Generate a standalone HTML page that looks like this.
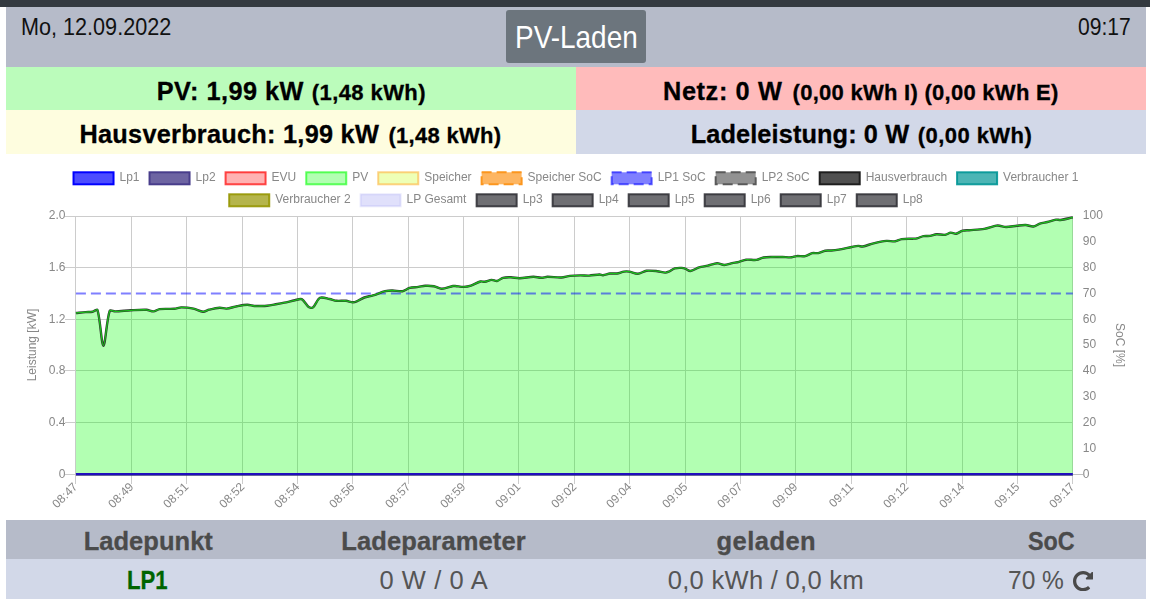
<!DOCTYPE html>
<html><head><meta charset="utf-8">
<style>
*{box-sizing:border-box;margin:0;padding:0}
html,body{width:1150px;height:604px;overflow:hidden;background:#fff;font-family:"Liberation Sans",sans-serif}
.a{position:absolute}
.tx{position:absolute;white-space:nowrap;line-height:1;transform-origin:0 0}
.b{font-weight:bold;-webkit-text-stroke:0.3px #000}
#topbar{left:0;top:0;width:1150px;height:7px;background:#343a40}
#hdr{left:6px;top:7px;width:1140px;height:60px;background:#b6bbc9}
#btn{left:506px;top:10px;width:140px;height:53px;background:#6c757d;border-radius:3px}
#r1l{left:6px;top:67px;width:570px;height:43px;background:#bbfcbb}
#r1r{left:576px;top:67px;width:570px;height:43px;background:#ffbbbb}
#r2l{left:6px;top:110px;width:570px;height:44px;background:#fefddf}
#r2r{left:576px;top:110px;width:570px;height:44px;background:#d2d8e8}
#th{left:6px;top:520px;width:1140px;height:39px;background:#b6bbc9}
#tb{left:6px;top:559px;width:1140px;height:40px;background:#d2d8e8}
#date{left:21.1px;top:16px;letter-spacing:0.00px;transform:scaleX(0.9198);font-size:23.5px;color:#111}
#time{left:1077.9px;top:16px;letter-spacing:0.00px;transform:scaleX(0.8966);font-size:23.5px;color:#111}
#title{left:514.7px;top:22px;letter-spacing:0.00px;transform:scaleX(0.9160);font-size:30.5px;color:#fff}
.big{font-size:25.3px;color:#000}
.sm{font-size:22px;color:#000}
#pvm{left:156.8px;top:79px;letter-spacing:0.45px}
#pvs{left:311.8px;top:82px;letter-spacing:0.41px}
#nm{left:663.0px;top:79px;letter-spacing:0.62px}
#ns{left:792.6px;top:82px;letter-spacing:0.27px}
#hm{left:79.5px;top:122px;letter-spacing:0.26px}
#hs{left:388.5px;top:125px;letter-spacing:0.28px}
#lm{left:690.7px;top:122px;letter-spacing:0.12px}
#ls{left:917.7px;top:125px;letter-spacing:0.45px}
.th{font-size:25.5px;font-weight:bold;color:#4b4b4b;-webkit-text-stroke:0.3px currentColor}
.tv{font-size:25.5px;color:#555}
#h1{left:83.7px;top:529px;letter-spacing:0.03px}
#h2{left:341.3px;top:529px;letter-spacing:0.13px}
#h3{left:716.6px;top:529px;letter-spacing:0.44px}
#h4{left:1028.2px;top:529px;letter-spacing:0.00px;transform:scaleX(0.9162)}
#v1{left:126.5px;top:568px;letter-spacing:0.00px;transform:scaleX(0.8672);color:#006400}
#v2{left:379.4px;top:568px;letter-spacing:0.60px}
#v3{left:667.7px;top:568px;letter-spacing:0.31px}
#v4{left:1007.9px;top:568px;letter-spacing:0.00px;transform:scaleX(0.9616)}
</style></head><body>
<div class="a" id="topbar"></div>
<div class="a" id="hdr"></div>
<div class="a" id="btn"></div>
<div class="a" id="r1l"></div>
<div class="a" id="r1r"></div>
<div class="a" id="r2l"></div>
<div class="a" id="r2r"></div>
<div class="a" id="th"></div>
<div class="a" id="tb"></div>
<div class="tx" id="date">Mo, 12.09.2022</div>
<div class="tx" id="time">09:17</div>
<div class="tx" id="title">PV-Laden</div>
<div class="tx b big" id="pvm">PV: 1,99 kW</div>
<div class="tx b sm" id="pvs">(1,48 kWh)</div>
<div class="tx b big" id="nm">Netz: 0 W</div>
<div class="tx b sm" id="ns">(0,00 kWh I) (0,00 kWh E)</div>
<div class="tx b big" id="hm">Hausverbrauch: 1,99 kW</div>
<div class="tx b sm" id="hs">(1,48 kWh)</div>
<div class="tx b big" id="lm">Ladeleistung: 0 W</div>
<div class="tx b sm" id="ls">(0,00 kWh)</div>
<div class="tx th" id="h1">Ladepunkt</div>
<div class="tx th" id="h2">Ladeparameter</div>
<div class="tx th" id="h3">geladen</div>
<div class="tx th" id="h4">SoC</div>
<div class="tx th" id="v1">LP1</div>
<div class="tx tv" id="v2">0 W / 0 A</div>
<div class="tx tv" id="v3">0,0 kWh / 0,0 km</div>
<div class="tx tv" id="v4">70 %</div>
<svg class="a" style="left:1072.8px;top:570.8px" width="20.3" height="20.3" viewBox="8 8 496 496"><path fill="#4a4a4a" d="M256.455 8c66.269.119 126.437 26.233 170.859 68.685l35.715-35.715C478.149 25.851 504 36.559 504 57.941V192c0 13.255-10.745 24-24 24H345.941c-21.382 0-32.09-25.851-16.971-40.971l41.75-41.75c-30.864-28.899-70.801-44.907-113.23-45.273-92.398-.798-170.283 73.977-169.484 169.442C88.764 348.009 162.184 424 256 424c41.127 0 79.997-14.678 110.629-41.556 4.743-4.161 11.906-3.908 16.368.553l39.662 39.662c4.872 4.872 4.631 12.815-.482 17.433C378.202 479.813 319.926 504 256 504 119.034 504 8.001 392.967 8 256.002 7.999 119.193 119.646 7.755 256.455 8z"/></svg>
<svg class="a" style="left:0;top:0;will-change:transform" width="1150" height="604">
<line x1="65" y1="216.5" x2="1073" y2="216.5" stroke="#cccccc" stroke-width="1"/>
<line x1="65" y1="267.5" x2="1073" y2="267.5" stroke="#cccccc" stroke-width="1"/>
<line x1="65" y1="319.5" x2="1073" y2="319.5" stroke="#cccccc" stroke-width="1"/>
<line x1="65" y1="370.5" x2="1073" y2="370.5" stroke="#cccccc" stroke-width="1"/>
<line x1="65" y1="422.5" x2="1073" y2="422.5" stroke="#cccccc" stroke-width="1"/>
<line x1="65" y1="474.5" x2="1073" y2="474.5" stroke="#cccccc" stroke-width="1"/>
<line x1="75.5" y1="216" x2="75.5" y2="484" stroke="#cccccc" stroke-width="1"/>
<line x1="131.5" y1="216" x2="131.5" y2="484" stroke="#cccccc" stroke-width="1"/>
<line x1="186.5" y1="216" x2="186.5" y2="484" stroke="#cccccc" stroke-width="1"/>
<line x1="242.5" y1="216" x2="242.5" y2="484" stroke="#cccccc" stroke-width="1"/>
<line x1="297.5" y1="216" x2="297.5" y2="484" stroke="#cccccc" stroke-width="1"/>
<line x1="352.5" y1="216" x2="352.5" y2="484" stroke="#cccccc" stroke-width="1"/>
<line x1="408.5" y1="216" x2="408.5" y2="484" stroke="#cccccc" stroke-width="1"/>
<line x1="463.5" y1="216" x2="463.5" y2="484" stroke="#cccccc" stroke-width="1"/>
<line x1="518.5" y1="216" x2="518.5" y2="484" stroke="#cccccc" stroke-width="1"/>
<line x1="574.5" y1="216" x2="574.5" y2="484" stroke="#cccccc" stroke-width="1"/>
<line x1="629.5" y1="216" x2="629.5" y2="484" stroke="#cccccc" stroke-width="1"/>
<line x1="685.5" y1="216" x2="685.5" y2="484" stroke="#cccccc" stroke-width="1"/>
<line x1="740.5" y1="216" x2="740.5" y2="484" stroke="#cccccc" stroke-width="1"/>
<line x1="795.5" y1="216" x2="795.5" y2="484" stroke="#cccccc" stroke-width="1"/>
<line x1="851.5" y1="216" x2="851.5" y2="484" stroke="#cccccc" stroke-width="1"/>
<line x1="906.5" y1="216" x2="906.5" y2="484" stroke="#cccccc" stroke-width="1"/>
<line x1="962.5" y1="216" x2="962.5" y2="484" stroke="#cccccc" stroke-width="1"/>
<line x1="1017.5" y1="216" x2="1017.5" y2="484" stroke="#cccccc" stroke-width="1"/>
<line x1="1072.5" y1="216" x2="1072.5" y2="484" stroke="#cccccc" stroke-width="1"/>
<line x1="1073" y1="474.5" x2="1083" y2="474.5" stroke="#bfbfbf" stroke-width="1"/>
<path d="M75.9,313 C78.84,312.73 82.76,312.33 85.7,312.1 C87.77,311.94 90.58,312.06 92.6,311.7 C94.12,311.43 97.09,308.72 97.5,310 C100.33,318.92 101.55,345.56 103.4,345.7 C105.21,345.83 106.64,319.8 109.7,310.9 C110.18,309.51 113.55,311.45 115.2,311.4 C119.91,311.27 126.19,310.54 130.9,310.3 C135.58,310.06 141.86,309.57 146.5,309.8 C148.64,309.9 151.44,311.51 153.5,311.4 C155.37,311.3 157.68,309.34 159.6,309.1 C163.92,308.56 169.92,309.14 174.3,308.8 C176.43,308.63 179.18,307.42 181.3,307.4 C184.94,307.36 189.91,307.89 193.5,308.6 C196.42,309.18 200.15,311.5 203,311.7 C204.83,311.83 207.23,310.15 209.1,309.7 C212.21,308.95 216.44,307.9 219.6,307.7 C221.66,307.57 224.45,308.78 226.5,308.6 C229.67,308.33 233.82,306.78 237,306.2 C240.09,305.64 244.29,304.84 247.4,304.8 C249.48,304.78 252.22,305.8 254.3,306 C256,306.16 258.29,306.04 260,306 C262.1,305.95 264.91,305.93 267,305.7 C269.62,305.42 273.1,304.75 275.7,304.3 C278.29,303.85 281.73,303.24 284.3,302.7 C287.46,302.04 291.63,300.94 294.8,300.3 C296.85,299.89 300.03,298.4 301.7,299.2 C304.2,300.41 306.3,305.26 308.7,307 C309.69,307.72 312.1,308.14 313,307.4 C315.49,305.38 317.26,299.19 320,297.8 C322.24,296.67 326.75,298.48 329.6,299 C331.7,299.38 334.39,300.57 336.5,300.8 C339.34,301.11 343.25,300.54 346.1,300.8 C348.2,300.99 350.95,302.26 353,302.3 C354.34,302.32 356.14,301.54 357.4,301 C359.53,300.1 362.13,298.28 364.3,297.5 C366.81,296.6 370.43,296.17 373,295.4 C376.7,294.28 381.47,292.15 385.2,291.2 C387.23,290.68 390.1,290.5 392.2,290.5 C395.32,290.5 399.6,291.65 402.6,291.2 C404.82,290.87 407.39,288.51 409.6,287.9 C412.1,287.22 415.7,287.25 418.3,286.9 C420.38,286.62 423.12,285.89 425.2,285.8 C427.8,285.68 431.35,285.74 433.9,286.2 C436.3,286.64 439.33,288.82 441.7,288.8 C445.06,288.76 449.59,286.71 453,286 C453.64,285.87 454.54,285.95 455.2,286 C457.81,286.22 461.3,286.95 463.9,286.9 C466.01,286.86 468.89,286.36 470.9,285.7 C473.84,284.74 477.47,282.32 480.4,281.5 C481.64,281.15 483.51,281.98 484.8,281.8 C486.9,281.5 489.62,280.04 491.7,279.9 C493.28,279.8 495.5,281.28 497,281 C498.89,280.65 501.07,278.31 503,277.8 C505.24,277.2 508.53,277.24 510.9,277.3 C513.51,277.36 516.99,278.26 519.6,278.2 C523.77,278.11 529.33,276.88 533.5,276.8 C535.84,276.76 538.97,277.8 541.3,277.8 C543.14,277.8 545.55,276.83 547.4,276.8 C551.55,276.74 557.15,277.67 561.3,277.5 C563.93,277.4 567.37,276.19 570,275.9 C573.1,275.56 577.28,275.45 580.4,275.4 C583.01,275.36 586.5,275.72 589.1,275.6 C592.26,275.45 596.46,274.59 599.6,274.5 C600.63,274.47 601.99,275.3 603,275.2 C605.11,275 607.87,273.76 610,273.5 C612.07,273.25 614.94,273.78 617,273.5 C619.11,273.21 621.8,271.93 623.9,271.6 C625.43,271.36 627.57,271.36 629.1,271.6 C631.74,272.02 635.23,273.93 637.8,273.8 C640.45,273.66 643.8,271.06 646.5,270.7 C649.68,270.28 654.15,270.87 657.4,271.2 C659.76,271.44 662.87,272.5 665.2,272.6 C666.26,272.65 667.72,272.14 668.7,271.7 C670.6,270.85 672.84,268.87 674.8,268.3 C676.74,267.73 679.64,267.84 681.7,267.9 C682.76,267.93 684.2,268.24 685.2,268.6 C686.81,269.17 688.82,271.14 690.4,271 C692.99,270.78 696.41,268.22 699.1,267.4 C701.63,266.63 705.22,266.32 707.8,265.7 C709.93,265.18 712.67,264.07 714.8,263.6 C715.82,263.38 717.27,263.25 718.3,263.4 C720.12,263.67 722.49,265.03 724.3,265 C726.66,264.97 729.82,263.71 732.2,263.2 C734.26,262.75 737.05,262.32 739.1,261.8 C741.22,261.27 743.95,259.94 746.1,259.7 C749.17,259.37 753.45,260.29 756.5,259.9 C758.67,259.63 761.34,257.9 763.5,257.5 C766.05,257.03 769.59,257.07 772.2,257 C775.32,256.92 779.48,256.95 782.6,257 C785.21,257.04 788.71,257.47 791.3,257.3 C792.88,257.2 794.91,256.24 796.5,256.1 C799.08,255.88 802.69,256.58 805.2,256.1 C807.4,255.68 810.02,253.6 812.2,253.1 C813.95,252.7 816.53,253.43 818.3,253.1 C820.43,252.71 823.08,251.12 825.2,250.7 C826.98,250.34 829.48,250.65 831.3,250.5 C833.53,250.32 836.5,249.98 838.7,249.6 C842.62,248.93 847.79,247.74 851.7,247 C853.67,246.63 856.32,245.99 858.3,245.9 C859.59,245.84 861.34,246.72 862.6,246.5 C865.9,245.94 870.19,244.08 873.5,243.3 C877.36,242.4 882.58,241.26 886.5,240.9 C889.09,240.66 892.65,241.6 895.2,241.3 C897.21,241.06 899.68,239.4 901.7,239.1 C904.9,238.62 909.33,238.87 912.6,238.7 C913.92,238.63 915.72,238.61 917,238.3 C918.99,237.83 921.5,236.47 923.5,236.1 C925.4,235.75 928.08,236.17 930,235.9 C931.98,235.63 934.52,234.44 936.5,234.3 C939.08,234.11 942.66,235.1 945.2,234.8 C946.92,234.59 949.01,232.77 950.7,232.6 C952.28,232.44 954.55,233.95 956.1,233.7 C958.12,233.38 960.56,231.25 962.6,230.7 C964.46,230.2 967.15,230.36 969.1,230.2 C973.66,229.82 979.8,229.64 984.3,228.9 C987.96,228.29 992.67,226.46 996.3,225.7 C997.26,225.5 998.62,225.57 999.6,225.7 C1001.56,225.96 1004.13,227 1006.1,227 C1009.35,227 1013.72,226.03 1017,225.7 C1019.6,225.43 1023.11,224.87 1025.7,225 C1028,225.11 1031.09,226.7 1033.3,226.5 C1035.32,226.31 1037.79,224.34 1039.8,223.7 C1042.02,222.99 1045.13,222.57 1047.4,222 C1050.02,221.34 1053.46,220.01 1056.1,219.6 C1057.36,219.41 1059.13,220.17 1060.4,220 C1064.15,219.51 1069.1,218.18 1072.83,217.4 L1072.83,474 L75.9,474 Z" fill="rgba(0,255,0,0.3)" stroke="none"/>
<line x1="75.9" y1="293.4" x2="1072.83" y2="293.4" stroke="rgba(0,0,255,0.5)" stroke-width="2" stroke-dasharray="10 5"/>
<path d="M75.9,313 C78.84,312.73 82.76,312.33 85.7,312.1 C87.77,311.94 90.58,312.06 92.6,311.7 C94.12,311.43 97.09,308.72 97.5,310 C100.33,318.92 101.55,345.56 103.4,345.7 C105.21,345.83 106.64,319.8 109.7,310.9 C110.18,309.51 113.55,311.45 115.2,311.4 C119.91,311.27 126.19,310.54 130.9,310.3 C135.58,310.06 141.86,309.57 146.5,309.8 C148.64,309.9 151.44,311.51 153.5,311.4 C155.37,311.3 157.68,309.34 159.6,309.1 C163.92,308.56 169.92,309.14 174.3,308.8 C176.43,308.63 179.18,307.42 181.3,307.4 C184.94,307.36 189.91,307.89 193.5,308.6 C196.42,309.18 200.15,311.5 203,311.7 C204.83,311.83 207.23,310.15 209.1,309.7 C212.21,308.95 216.44,307.9 219.6,307.7 C221.66,307.57 224.45,308.78 226.5,308.6 C229.67,308.33 233.82,306.78 237,306.2 C240.09,305.64 244.29,304.84 247.4,304.8 C249.48,304.78 252.22,305.8 254.3,306 C256,306.16 258.29,306.04 260,306 C262.1,305.95 264.91,305.93 267,305.7 C269.62,305.42 273.1,304.75 275.7,304.3 C278.29,303.85 281.73,303.24 284.3,302.7 C287.46,302.04 291.63,300.94 294.8,300.3 C296.85,299.89 300.03,298.4 301.7,299.2 C304.2,300.41 306.3,305.26 308.7,307 C309.69,307.72 312.1,308.14 313,307.4 C315.49,305.38 317.26,299.19 320,297.8 C322.24,296.67 326.75,298.48 329.6,299 C331.7,299.38 334.39,300.57 336.5,300.8 C339.34,301.11 343.25,300.54 346.1,300.8 C348.2,300.99 350.95,302.26 353,302.3 C354.34,302.32 356.14,301.54 357.4,301 C359.53,300.1 362.13,298.28 364.3,297.5 C366.81,296.6 370.43,296.17 373,295.4 C376.7,294.28 381.47,292.15 385.2,291.2 C387.23,290.68 390.1,290.5 392.2,290.5 C395.32,290.5 399.6,291.65 402.6,291.2 C404.82,290.87 407.39,288.51 409.6,287.9 C412.1,287.22 415.7,287.25 418.3,286.9 C420.38,286.62 423.12,285.89 425.2,285.8 C427.8,285.68 431.35,285.74 433.9,286.2 C436.3,286.64 439.33,288.82 441.7,288.8 C445.06,288.76 449.59,286.71 453,286 C453.64,285.87 454.54,285.95 455.2,286 C457.81,286.22 461.3,286.95 463.9,286.9 C466.01,286.86 468.89,286.36 470.9,285.7 C473.84,284.74 477.47,282.32 480.4,281.5 C481.64,281.15 483.51,281.98 484.8,281.8 C486.9,281.5 489.62,280.04 491.7,279.9 C493.28,279.8 495.5,281.28 497,281 C498.89,280.65 501.07,278.31 503,277.8 C505.24,277.2 508.53,277.24 510.9,277.3 C513.51,277.36 516.99,278.26 519.6,278.2 C523.77,278.11 529.33,276.88 533.5,276.8 C535.84,276.76 538.97,277.8 541.3,277.8 C543.14,277.8 545.55,276.83 547.4,276.8 C551.55,276.74 557.15,277.67 561.3,277.5 C563.93,277.4 567.37,276.19 570,275.9 C573.1,275.56 577.28,275.45 580.4,275.4 C583.01,275.36 586.5,275.72 589.1,275.6 C592.26,275.45 596.46,274.59 599.6,274.5 C600.63,274.47 601.99,275.3 603,275.2 C605.11,275 607.87,273.76 610,273.5 C612.07,273.25 614.94,273.78 617,273.5 C619.11,273.21 621.8,271.93 623.9,271.6 C625.43,271.36 627.57,271.36 629.1,271.6 C631.74,272.02 635.23,273.93 637.8,273.8 C640.45,273.66 643.8,271.06 646.5,270.7 C649.68,270.28 654.15,270.87 657.4,271.2 C659.76,271.44 662.87,272.5 665.2,272.6 C666.26,272.65 667.72,272.14 668.7,271.7 C670.6,270.85 672.84,268.87 674.8,268.3 C676.74,267.73 679.64,267.84 681.7,267.9 C682.76,267.93 684.2,268.24 685.2,268.6 C686.81,269.17 688.82,271.14 690.4,271 C692.99,270.78 696.41,268.22 699.1,267.4 C701.63,266.63 705.22,266.32 707.8,265.7 C709.93,265.18 712.67,264.07 714.8,263.6 C715.82,263.38 717.27,263.25 718.3,263.4 C720.12,263.67 722.49,265.03 724.3,265 C726.66,264.97 729.82,263.71 732.2,263.2 C734.26,262.75 737.05,262.32 739.1,261.8 C741.22,261.27 743.95,259.94 746.1,259.7 C749.17,259.37 753.45,260.29 756.5,259.9 C758.67,259.63 761.34,257.9 763.5,257.5 C766.05,257.03 769.59,257.07 772.2,257 C775.32,256.92 779.48,256.95 782.6,257 C785.21,257.04 788.71,257.47 791.3,257.3 C792.88,257.2 794.91,256.24 796.5,256.1 C799.08,255.88 802.69,256.58 805.2,256.1 C807.4,255.68 810.02,253.6 812.2,253.1 C813.95,252.7 816.53,253.43 818.3,253.1 C820.43,252.71 823.08,251.12 825.2,250.7 C826.98,250.34 829.48,250.65 831.3,250.5 C833.53,250.32 836.5,249.98 838.7,249.6 C842.62,248.93 847.79,247.74 851.7,247 C853.67,246.63 856.32,245.99 858.3,245.9 C859.59,245.84 861.34,246.72 862.6,246.5 C865.9,245.94 870.19,244.08 873.5,243.3 C877.36,242.4 882.58,241.26 886.5,240.9 C889.09,240.66 892.65,241.6 895.2,241.3 C897.21,241.06 899.68,239.4 901.7,239.1 C904.9,238.62 909.33,238.87 912.6,238.7 C913.92,238.63 915.72,238.61 917,238.3 C918.99,237.83 921.5,236.47 923.5,236.1 C925.4,235.75 928.08,236.17 930,235.9 C931.98,235.63 934.52,234.44 936.5,234.3 C939.08,234.11 942.66,235.1 945.2,234.8 C946.92,234.59 949.01,232.77 950.7,232.6 C952.28,232.44 954.55,233.95 956.1,233.7 C958.12,233.38 960.56,231.25 962.6,230.7 C964.46,230.2 967.15,230.36 969.1,230.2 C973.66,229.82 979.8,229.64 984.3,228.9 C987.96,228.29 992.67,226.46 996.3,225.7 C997.26,225.5 998.62,225.57 999.6,225.7 C1001.56,225.96 1004.13,227 1006.1,227 C1009.35,227 1013.72,226.03 1017,225.7 C1019.6,225.43 1023.11,224.87 1025.7,225 C1028,225.11 1031.09,226.7 1033.3,226.5 C1035.32,226.31 1037.79,224.34 1039.8,223.7 C1042.02,222.99 1045.13,222.57 1047.4,222 C1050.02,221.34 1053.46,220.01 1056.1,219.6 C1057.36,219.41 1059.13,220.17 1060.4,220 C1064.15,219.51 1069.1,218.18 1072.83,217.4" fill="none" stroke="#333" stroke-width="2.4" stroke-linejoin="round"/>
<path d="M75.9,313 C78.84,312.73 82.76,312.33 85.7,312.1 C87.77,311.94 90.58,312.06 92.6,311.7 C94.12,311.43 97.09,308.72 97.5,310 C100.33,318.92 101.55,345.56 103.4,345.7 C105.21,345.83 106.64,319.8 109.7,310.9 C110.18,309.51 113.55,311.45 115.2,311.4 C119.91,311.27 126.19,310.54 130.9,310.3 C135.58,310.06 141.86,309.57 146.5,309.8 C148.64,309.9 151.44,311.51 153.5,311.4 C155.37,311.3 157.68,309.34 159.6,309.1 C163.92,308.56 169.92,309.14 174.3,308.8 C176.43,308.63 179.18,307.42 181.3,307.4 C184.94,307.36 189.91,307.89 193.5,308.6 C196.42,309.18 200.15,311.5 203,311.7 C204.83,311.83 207.23,310.15 209.1,309.7 C212.21,308.95 216.44,307.9 219.6,307.7 C221.66,307.57 224.45,308.78 226.5,308.6 C229.67,308.33 233.82,306.78 237,306.2 C240.09,305.64 244.29,304.84 247.4,304.8 C249.48,304.78 252.22,305.8 254.3,306 C256,306.16 258.29,306.04 260,306 C262.1,305.95 264.91,305.93 267,305.7 C269.62,305.42 273.1,304.75 275.7,304.3 C278.29,303.85 281.73,303.24 284.3,302.7 C287.46,302.04 291.63,300.94 294.8,300.3 C296.85,299.89 300.03,298.4 301.7,299.2 C304.2,300.41 306.3,305.26 308.7,307 C309.69,307.72 312.1,308.14 313,307.4 C315.49,305.38 317.26,299.19 320,297.8 C322.24,296.67 326.75,298.48 329.6,299 C331.7,299.38 334.39,300.57 336.5,300.8 C339.34,301.11 343.25,300.54 346.1,300.8 C348.2,300.99 350.95,302.26 353,302.3 C354.34,302.32 356.14,301.54 357.4,301 C359.53,300.1 362.13,298.28 364.3,297.5 C366.81,296.6 370.43,296.17 373,295.4 C376.7,294.28 381.47,292.15 385.2,291.2 C387.23,290.68 390.1,290.5 392.2,290.5 C395.32,290.5 399.6,291.65 402.6,291.2 C404.82,290.87 407.39,288.51 409.6,287.9 C412.1,287.22 415.7,287.25 418.3,286.9 C420.38,286.62 423.12,285.89 425.2,285.8 C427.8,285.68 431.35,285.74 433.9,286.2 C436.3,286.64 439.33,288.82 441.7,288.8 C445.06,288.76 449.59,286.71 453,286 C453.64,285.87 454.54,285.95 455.2,286 C457.81,286.22 461.3,286.95 463.9,286.9 C466.01,286.86 468.89,286.36 470.9,285.7 C473.84,284.74 477.47,282.32 480.4,281.5 C481.64,281.15 483.51,281.98 484.8,281.8 C486.9,281.5 489.62,280.04 491.7,279.9 C493.28,279.8 495.5,281.28 497,281 C498.89,280.65 501.07,278.31 503,277.8 C505.24,277.2 508.53,277.24 510.9,277.3 C513.51,277.36 516.99,278.26 519.6,278.2 C523.77,278.11 529.33,276.88 533.5,276.8 C535.84,276.76 538.97,277.8 541.3,277.8 C543.14,277.8 545.55,276.83 547.4,276.8 C551.55,276.74 557.15,277.67 561.3,277.5 C563.93,277.4 567.37,276.19 570,275.9 C573.1,275.56 577.28,275.45 580.4,275.4 C583.01,275.36 586.5,275.72 589.1,275.6 C592.26,275.45 596.46,274.59 599.6,274.5 C600.63,274.47 601.99,275.3 603,275.2 C605.11,275 607.87,273.76 610,273.5 C612.07,273.25 614.94,273.78 617,273.5 C619.11,273.21 621.8,271.93 623.9,271.6 C625.43,271.36 627.57,271.36 629.1,271.6 C631.74,272.02 635.23,273.93 637.8,273.8 C640.45,273.66 643.8,271.06 646.5,270.7 C649.68,270.28 654.15,270.87 657.4,271.2 C659.76,271.44 662.87,272.5 665.2,272.6 C666.26,272.65 667.72,272.14 668.7,271.7 C670.6,270.85 672.84,268.87 674.8,268.3 C676.74,267.73 679.64,267.84 681.7,267.9 C682.76,267.93 684.2,268.24 685.2,268.6 C686.81,269.17 688.82,271.14 690.4,271 C692.99,270.78 696.41,268.22 699.1,267.4 C701.63,266.63 705.22,266.32 707.8,265.7 C709.93,265.18 712.67,264.07 714.8,263.6 C715.82,263.38 717.27,263.25 718.3,263.4 C720.12,263.67 722.49,265.03 724.3,265 C726.66,264.97 729.82,263.71 732.2,263.2 C734.26,262.75 737.05,262.32 739.1,261.8 C741.22,261.27 743.95,259.94 746.1,259.7 C749.17,259.37 753.45,260.29 756.5,259.9 C758.67,259.63 761.34,257.9 763.5,257.5 C766.05,257.03 769.59,257.07 772.2,257 C775.32,256.92 779.48,256.95 782.6,257 C785.21,257.04 788.71,257.47 791.3,257.3 C792.88,257.2 794.91,256.24 796.5,256.1 C799.08,255.88 802.69,256.58 805.2,256.1 C807.4,255.68 810.02,253.6 812.2,253.1 C813.95,252.7 816.53,253.43 818.3,253.1 C820.43,252.71 823.08,251.12 825.2,250.7 C826.98,250.34 829.48,250.65 831.3,250.5 C833.53,250.32 836.5,249.98 838.7,249.6 C842.62,248.93 847.79,247.74 851.7,247 C853.67,246.63 856.32,245.99 858.3,245.9 C859.59,245.84 861.34,246.72 862.6,246.5 C865.9,245.94 870.19,244.08 873.5,243.3 C877.36,242.4 882.58,241.26 886.5,240.9 C889.09,240.66 892.65,241.6 895.2,241.3 C897.21,241.06 899.68,239.4 901.7,239.1 C904.9,238.62 909.33,238.87 912.6,238.7 C913.92,238.63 915.72,238.61 917,238.3 C918.99,237.83 921.5,236.47 923.5,236.1 C925.4,235.75 928.08,236.17 930,235.9 C931.98,235.63 934.52,234.44 936.5,234.3 C939.08,234.11 942.66,235.1 945.2,234.8 C946.92,234.59 949.01,232.77 950.7,232.6 C952.28,232.44 954.55,233.95 956.1,233.7 C958.12,233.38 960.56,231.25 962.6,230.7 C964.46,230.2 967.15,230.36 969.1,230.2 C973.66,229.82 979.8,229.64 984.3,228.9 C987.96,228.29 992.67,226.46 996.3,225.7 C997.26,225.5 998.62,225.57 999.6,225.7 C1001.56,225.96 1004.13,227 1006.1,227 C1009.35,227 1013.72,226.03 1017,225.7 C1019.6,225.43 1023.11,224.87 1025.7,225 C1028,225.11 1031.09,226.7 1033.3,226.5 C1035.32,226.31 1037.79,224.34 1039.8,223.7 C1042.02,222.99 1045.13,222.57 1047.4,222 C1050.02,221.34 1053.46,220.01 1056.1,219.6 C1057.36,219.41 1059.13,220.17 1060.4,220 C1064.15,219.51 1069.1,218.18 1072.83,217.4" fill="none" stroke="rgb(25,190,25)" stroke-width="1.3" stroke-linejoin="round"/>
<line x1="75.9" y1="475.4" x2="1072.83" y2="475.4" stroke="#2a2a78" stroke-width="0.8"/>
<line x1="75.9" y1="474" x2="1072.83" y2="474" stroke="rgb(32,14,188)" stroke-width="2"/>
<text x="65.5" y="219" font-family="Liberation Sans" font-size="12" fill="#888" text-anchor="end">2.0</text>
<text x="65.5" y="271" font-family="Liberation Sans" font-size="12" fill="#888" text-anchor="end">1.6</text>
<text x="65.5" y="323" font-family="Liberation Sans" font-size="12" fill="#888" text-anchor="end">1.2</text>
<text x="65.5" y="374" font-family="Liberation Sans" font-size="12" fill="#888" text-anchor="end">0.8</text>
<text x="65.5" y="426" font-family="Liberation Sans" font-size="12" fill="#888" text-anchor="end">0.4</text>
<text x="65.5" y="478" font-family="Liberation Sans" font-size="12" fill="#888" text-anchor="end">0</text>
<text x="1082.83" y="219" font-family="Liberation Sans" font-size="12" fill="#888" text-anchor="start">100</text>
<text x="1082.83" y="245" font-family="Liberation Sans" font-size="12" fill="#888" text-anchor="start">90</text>
<text x="1082.83" y="271" font-family="Liberation Sans" font-size="12" fill="#888" text-anchor="start">80</text>
<text x="1082.83" y="297" font-family="Liberation Sans" font-size="12" fill="#888" text-anchor="start">70</text>
<text x="1082.83" y="323" font-family="Liberation Sans" font-size="12" fill="#888" text-anchor="start">60</text>
<text x="1082.83" y="348" font-family="Liberation Sans" font-size="12" fill="#888" text-anchor="start">50</text>
<text x="1082.83" y="374" font-family="Liberation Sans" font-size="12" fill="#888" text-anchor="start">40</text>
<text x="1082.83" y="400" font-family="Liberation Sans" font-size="12" fill="#888" text-anchor="start">30</text>
<text x="1082.83" y="426" font-family="Liberation Sans" font-size="12" fill="#888" text-anchor="start">20</text>
<text x="1082.83" y="452" font-family="Liberation Sans" font-size="12" fill="#888" text-anchor="start">10</text>
<text x="1082.83" y="478" font-family="Liberation Sans" font-size="12" fill="#888" text-anchor="start">0</text>
<text transform="translate(75.5,484.6) rotate(-45)" font-family="Liberation Sans" font-size="12" fill="#888" text-anchor="end" dominant-baseline="central">08:47</text>
<text transform="translate(131.5,484.6) rotate(-45)" font-family="Liberation Sans" font-size="12" fill="#888" text-anchor="end" dominant-baseline="central">08:49</text>
<text transform="translate(186.5,484.6) rotate(-45)" font-family="Liberation Sans" font-size="12" fill="#888" text-anchor="end" dominant-baseline="central">08:51</text>
<text transform="translate(242.5,484.6) rotate(-45)" font-family="Liberation Sans" font-size="12" fill="#888" text-anchor="end" dominant-baseline="central">08:52</text>
<text transform="translate(297.5,484.6) rotate(-45)" font-family="Liberation Sans" font-size="12" fill="#888" text-anchor="end" dominant-baseline="central">08:54</text>
<text transform="translate(352.5,484.6) rotate(-45)" font-family="Liberation Sans" font-size="12" fill="#888" text-anchor="end" dominant-baseline="central">08:56</text>
<text transform="translate(408.5,484.6) rotate(-45)" font-family="Liberation Sans" font-size="12" fill="#888" text-anchor="end" dominant-baseline="central">08:57</text>
<text transform="translate(463.5,484.6) rotate(-45)" font-family="Liberation Sans" font-size="12" fill="#888" text-anchor="end" dominant-baseline="central">08:59</text>
<text transform="translate(518.5,484.6) rotate(-45)" font-family="Liberation Sans" font-size="12" fill="#888" text-anchor="end" dominant-baseline="central">09:01</text>
<text transform="translate(574.5,484.6) rotate(-45)" font-family="Liberation Sans" font-size="12" fill="#888" text-anchor="end" dominant-baseline="central">09:02</text>
<text transform="translate(629.5,484.6) rotate(-45)" font-family="Liberation Sans" font-size="12" fill="#888" text-anchor="end" dominant-baseline="central">09:04</text>
<text transform="translate(685.5,484.6) rotate(-45)" font-family="Liberation Sans" font-size="12" fill="#888" text-anchor="end" dominant-baseline="central">09:05</text>
<text transform="translate(740.5,484.6) rotate(-45)" font-family="Liberation Sans" font-size="12" fill="#888" text-anchor="end" dominant-baseline="central">09:07</text>
<text transform="translate(795.5,484.6) rotate(-45)" font-family="Liberation Sans" font-size="12" fill="#888" text-anchor="end" dominant-baseline="central">09:09</text>
<text transform="translate(851.5,484.6) rotate(-45)" font-family="Liberation Sans" font-size="12" fill="#888" text-anchor="end" dominant-baseline="central">09:11</text>
<text transform="translate(906.5,484.6) rotate(-45)" font-family="Liberation Sans" font-size="12" fill="#888" text-anchor="end" dominant-baseline="central">09:12</text>
<text transform="translate(962.5,484.6) rotate(-45)" font-family="Liberation Sans" font-size="12" fill="#888" text-anchor="end" dominant-baseline="central">09:14</text>
<text transform="translate(1017.5,484.6) rotate(-45)" font-family="Liberation Sans" font-size="12" fill="#888" text-anchor="end" dominant-baseline="central">09:15</text>
<text transform="translate(1072.5,484.6) rotate(-45)" font-family="Liberation Sans" font-size="12" fill="#888" text-anchor="end" dominant-baseline="central">09:17</text>
<text transform="translate(36,345) rotate(-90)" font-family="Liberation Sans" font-size="12" fill="#888" text-anchor="middle">Leistung [kW]</text>
<text transform="translate(1115.5,345) rotate(90)" font-family="Liberation Sans" font-size="12" fill="#888" text-anchor="middle">SoC [%]</text>
<rect x="73.53" y="172.3" width="40" height="12" fill="rgba(0,0,255,0.7)" stroke="#0000ff" stroke-width="2"/>
<text x="119.53" y="181" font-family="Liberation Sans" font-size="12" fill="#888">Lp1</text>
<rect x="149.55" y="172.3" width="40" height="12" fill="rgba(72,61,139,0.8)" stroke="#483d8b" stroke-width="2"/>
<text x="195.55" y="181" font-family="Liberation Sans" font-size="12" fill="#888">Lp2</text>
<rect x="225.57" y="172.3" width="40" height="12" fill="rgba(255,0,0,0.3)" stroke="rgba(255,0,0,0.7)" stroke-width="2"/>
<text x="271.57" y="181" font-family="Liberation Sans" font-size="12" fill="#888">EVU</text>
<rect x="306.25" y="172.3" width="40" height="12" fill="rgba(0,255,0,0.3)" stroke="rgba(0,255,0,0.6)" stroke-width="2"/>
<text x="352.25" y="181" font-family="Liberation Sans" font-size="12" fill="#888">PV</text>
<rect x="378.25" y="172.3" width="40" height="12" fill="rgba(200,255,13,0.3)" stroke="rgba(252,190,80,0.7)" stroke-width="2"/>
<text x="424.25" y="181" font-family="Liberation Sans" font-size="12" fill="#888">Speicher</text>
<rect x="481.62" y="172.3" width="40" height="12" fill="rgba(252,150,30,0.7)" stroke="rgba(252,150,30,1)" stroke-width="2" stroke-dasharray="10 5"/>
<text x="527.62" y="181" font-family="Liberation Sans" font-size="12" fill="#888">Speicher SoC</text>
<rect x="611.66" y="172.3" width="40" height="12" fill="rgba(0,0,255,0.5)" stroke="rgba(0,0,255,0.6)" stroke-width="2" stroke-dasharray="10 5"/>
<text x="657.66" y="181" font-family="Liberation Sans" font-size="12" fill="#888">LP1 SoC</text>
<rect x="715.68" y="172.3" width="40" height="12" fill="rgba(100,100,100,0.7)" stroke="rgba(90,90,90,1)" stroke-width="2" stroke-dasharray="10 5"/>
<text x="761.68" y="181" font-family="Liberation Sans" font-size="12" fill="#888">LP2 SoC</text>
<rect x="819.71" y="172.3" width="40" height="12" fill="rgba(80,80,80,1)" stroke="#1e1e1e" stroke-width="2"/>
<text x="865.71" y="181" font-family="Liberation Sans" font-size="12" fill="#888">Hausverbrauch</text>
<rect x="957.09" y="172.3" width="40" height="12" fill="rgba(0,150,150,0.7)" stroke="rgba(0,150,150,0.9)" stroke-width="2"/>
<text x="1003.09" y="181" font-family="Liberation Sans" font-size="12" fill="#888">Verbraucher 1</text>
<rect x="229.23" y="194.3" width="40" height="12" fill="rgba(150,150,0,0.7)" stroke="rgba(150,150,0,0.9)" stroke-width="2"/>
<text x="275.23" y="203" font-family="Liberation Sans" font-size="12" fill="#888">Verbraucher 2</text>
<rect x="360.61" y="194.3" width="40" height="12" fill="rgba(50,50,230,0.15)" stroke="rgba(50,50,230,0.1)" stroke-width="2"/>
<text x="406.61" y="203" font-family="Liberation Sans" font-size="12" fill="#888">LP Gesamt</text>
<rect x="476.64" y="194.3" width="40" height="12" fill="rgba(50,50,55,0.7)" stroke="rgba(50,50,55,0.9)" stroke-width="2"/>
<text x="522.64" y="203" font-family="Liberation Sans" font-size="12" fill="#888">Lp3</text>
<rect x="552.66" y="194.3" width="40" height="12" fill="rgba(50,50,55,0.7)" stroke="rgba(50,50,55,0.9)" stroke-width="2"/>
<text x="598.66" y="203" font-family="Liberation Sans" font-size="12" fill="#888">Lp4</text>
<rect x="628.68" y="194.3" width="40" height="12" fill="rgba(50,50,55,0.7)" stroke="rgba(50,50,55,0.9)" stroke-width="2"/>
<text x="674.68" y="203" font-family="Liberation Sans" font-size="12" fill="#888">Lp5</text>
<rect x="704.7" y="194.3" width="40" height="12" fill="rgba(50,50,55,0.7)" stroke="rgba(50,50,55,0.9)" stroke-width="2"/>
<text x="750.7" y="203" font-family="Liberation Sans" font-size="12" fill="#888">Lp6</text>
<rect x="780.72" y="194.3" width="40" height="12" fill="rgba(50,50,55,0.7)" stroke="rgba(50,50,55,0.9)" stroke-width="2"/>
<text x="826.72" y="203" font-family="Liberation Sans" font-size="12" fill="#888">Lp7</text>
<rect x="856.75" y="194.3" width="40" height="12" fill="rgba(50,50,55,0.7)" stroke="rgba(50,50,55,0.9)" stroke-width="2"/>
<text x="902.75" y="203" font-family="Liberation Sans" font-size="12" fill="#888">Lp8</text>
</svg>
</body></html>
